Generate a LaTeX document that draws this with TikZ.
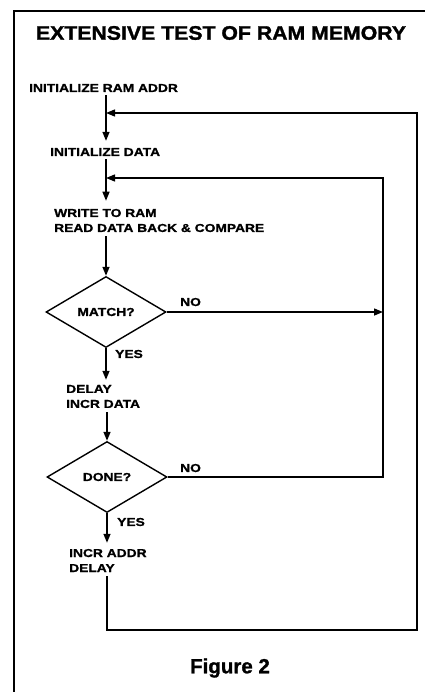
\documentclass[tikz,border=0pt]{standalone}
\usepackage{fontspec}
\setmainfont{Liberation Sans}
\newfontfamily\labfont{Liberation Sans}[FakeStretch=1.2,FakeBold=1.2]
\newfontfamily\titlefont{Liberation Sans}[FakeStretch=1.09,FakeBold=1.5]
\newfontfamily\figfont{Liberation Sans}[FakeBold=1.2]
\usetikzlibrary{arrows.meta,shapes.geometric}
\begin{document}
\begin{tikzpicture}[x=1pt,y=-1pt,
  lab/.style={font=\labfont\bfseries\fontsize{11.5}{15}\selectfont, inner sep=0pt, anchor=west, align=left},
  dec/.style={draw, diamond, line width=1.4pt, minimum width=120pt, minimum height=71pt, inner sep=0pt, aspect=1.7, font=\labfont\bfseries\fontsize{11.5}{15}\selectfont},
  flow/.style={line width=1.4pt},
  arr/.style={flow, -{Triangle[length=9pt,width=7pt]}},
  frame/.style={line width=1.4pt}]
\useasboundingbox (0,0) rectangle (425,692);
% frame
\draw[frame] (14,692) -- (14,11) -- (425,11);
% title and caption
\node[font=\titlefont\bfseries\fontsize{19.5}{22}\selectfont, inner sep=0pt] (title) at (221,33) {EXTENSIVE TEST OF RAM MEMORY};
\node[font=\figfont\bfseries\fontsize{20.5}{24}\selectfont, inner sep=0pt] (fig) at (230,668) {Figure 2};
% spine and loop coordinates
\coordinate (spine) at (106,0);
\coordinate (j1) at (106,113);
\coordinate (j2) at (106,178);
\coordinate (inner) at (383,178);
\coordinate (outer) at (417,113);
\coordinate (outBot) at (417,630);
% nodes
\node[lab] (addr) at (29,88) {INITIALIZE RAM ADDR};
\node[lab] (data) at (50,152) {INITIALIZE DATA};
\node[lab] (write) at (54,220.5) {WRITE TO RAM\\READ DATA BACK \& COMPARE};
\node[dec] (match) at (106,312) {MATCH?};
\node[lab] (delay) at (66,396.5) {DELAY\\INCR DATA};
\node[dec] (done) at (107,477) {DONE?};
\node[lab] (incr) at (69,560.5) {INCR ADDR\\DELAY};
% labels
\node[lab] (no1) at (180,302) {NO};
\node[lab] (yes1) at (115,354) {YES};
\node[lab] (no2) at (180,468) {NO};
\node[lab] (yes2) at (117,522) {YES};
% spine arrows
\draw[arr, shorten <=3pt, shorten >=7pt] (addr.south -| spine) -- (data.north -| spine);
\draw[arr, shorten <=3pt, shorten >=8pt] (data.south -| spine) -- (write.north -| spine);
\draw[arr, shorten <=4pt] (write.south -| spine) -- (match.north);
\draw[arr, shorten >=5pt] (match.south) -- (delay.north -| match.south);
\draw[arr, shorten <=4pt] (delay.south -| done.north) -- (done.north);
\draw[arr, shorten >=6pt] (done.south) -- (incr.north -| done.south);
% branches
\draw[arr] (match.east) -- (match.east -| inner);
\draw[arr] (done.east) -- (done.east -| inner) |- (j2);
\draw[arr, shorten <=4pt] (incr.south -| done.south) |- (outBot) |- (j1);
\end{tikzpicture}
\end{document}
